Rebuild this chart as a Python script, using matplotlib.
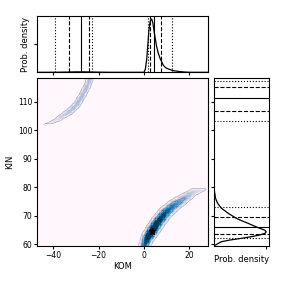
import numpy as np
import matplotlib
matplotlib.use("Agg")
import matplotlib.pyplot as plt

# ---- values ----
# ridge of the two posterior "bananas" (KOM, KIN), relative density along ridge
ridge_low_kom = [0.3, 1.5, 3.4, 6.0, 9.3, 13.0, 16.9, 21.8, 27.0]
ridge_low_kin = [59.5, 62.0, 64.3, 67.5, 70.8, 73.5, 75.5, 78.2, 79.3]
ridge_low_rho = [0.65, 0.95, 1.0, 0.9, 0.72, 0.56, 0.4, 0.22, 0.08]
ridge_low_wid = [2.8, 3.0, 3.2, 3.3, 3.3, 3.2, 3.0, 2.6, 1.8]

ridge_up_kom = [-44.0, -40.0, -37.0, -33.0, -29.6, -27.0, -25.0, -23.5]
ridge_up_kin = [102.0, 103.0, 104.4, 106.5, 109.0, 112.5, 115.5, 119.0]
ridge_up_rho = [0.07, 0.12, 0.2, 0.27, 0.3, 0.3, 0.29, 0.29]
ridge_up_wid = [1.2, 1.6, 1.9, 2.1, 2.1, 2.1, 2.1, 2.1]

best_kom, best_kin = 3.6, 64.6

# marginal of KOM
kom_x = [-47, -40, -34, -30, -26, -22, -15, 0.0, 0.6, 1.2, 1.7, 2.2, 2.8, 3.4, 3.9,
         4.4, 5.0, 5.6, 6.3, 7.1, 8.5, 9.5, 10.7, 12.9, 15.9, 18.0, 20.3, 28]
kom_p = [0, 0, 0.0008, 0.0015, 0.0015, 0.0008, 0, 0, 0.01, 0.044, 0.095, 0.151, 0.183,
         0.19, 0.178, 0.151, 0.12, 0.092, 0.069, 0.05, 0.026, 0.017, 0.012, 0.006,
         0.0024, 0.001, 0, 0]
# credible interval lines for KOM (2.5, 16, 50, 84, 97.5 %) for each mode
kom_lines_up = [-39.4, -33.1, -27.7, -24.4, -23.1]
kom_lines_low = [1.6, 2.7, 4.6, 7.6, 12.2]

# marginal of KIN
kin_y = [59.2, 59.6, 60.8, 61.4, 62.0, 62.6, 63.2, 63.8, 64.3, 64.9, 65.5, 66.4, 67.3,
         68.1, 69.0, 70.8, 72.6, 74.4, 76.1, 78.4, 80.0, 118.4]
kin_p = [0, 0.002, 0.0137, 0.03, 0.0525, 0.072, 0.088, 0.098, 0.1, 0.097, 0.088, 0.076,
         0.065, 0.054, 0.043, 0.027, 0.0137, 0.0063, 0.0026, 0.0006, 0, 0]
kin_lines_up = [117.5, 115.2, 111.4, 106.9, 103.4]
kin_lines_low = [73.1, 69.5, 65.9, 63.4, 62.0]

line_styles = [':', '--', '-', '--', ':']

xlim = (-47.1, 28.1)
ylim = (59.2, 118.4)

# ---- density field built from the ridges ----
# work in screen-like units so widths are isotropic
sx, sy = 2.265, 2.84
gx = np.linspace(xlim[0], xlim[1], 130)
gy = np.linspace(ylim[0], ylim[1], 130)
X, Y = np.meshgrid(gx, gy)


def band(kom, kin, rho, wid):
    px = np.array(kom) * sx
    py = np.array(kin) * sy
    out = np.zeros_like(X)
    for i in range(len(px) - 1):
        dx, dy = px[i + 1] - px[i], py[i + 1] - py[i]
        t = ((X * sx - px[i]) * dx + (Y * sy - py[i]) * dy) / (dx * dx + dy * dy)
        t = np.clip(t, 0, 1)
        d = np.hypot(X * sx - (px[i] + t * dx), Y * sy - (py[i] + t * dy))
        r = rho[i] + t * (rho[i + 1] - rho[i])
        w = wid[i] + t * (wid[i + 1] - wid[i])
        out = np.maximum(out, r * np.exp(-0.5 * (d / w) ** 2))
    return out


Z = np.maximum(band(ridge_low_kom, ridge_low_kin, ridge_low_rho, ridge_low_wid),
               band(ridge_up_kom, ridge_up_kin, ridge_up_rho, ridge_up_wid))
Z[Z < 0.06] = 0  # empty bins

plt.rcParams['font.family'] = ['DejaVu Sans']
plt.rcParams['font.size'] = 6

fig = plt.figure(figsize=(3.0, 2.81), dpi=100)
ax = fig.add_axes([0.124, 0.1235, 0.568, 0.599])
ax_top = fig.add_axes([0.124, 0.7427, 0.568, 0.1993], sharex=ax)
ax_right = fig.add_axes([0.714, 0.1235, 0.182, 0.599], sharey=ax)

# main panel
ax.pcolormesh(gx, gy, Z, cmap='PuBu', vmin=0, vmax=0.8, shading='auto')
ax.contour(gx, gy, Z, levels=[0.07, 0.35, 0.7], colors='k', linewidths=0.35, alpha=0.35)
ax.plot(best_kom, best_kin, marker='*', color='k', markersize=5)
ax.set_xlim(xlim)
ax.set_ylim(ylim)
ax.set_xticks([-40, -20, 0, 20])
ax.set_yticks([60, 70, 80, 90, 100, 110])
ax.set_xlabel('KOM', labelpad=1)
ax.set_ylabel('KIN', labelpad=3)
ax.tick_params(length=2, pad=1.5, labelsize=5.5)

# top marginal
ax_top.plot(kom_x, kom_p, color='k', lw=0.9)
for v, ls in zip(kom_lines_up + kom_lines_low, line_styles * 2):
    ax_top.axvline(v, color='k', ls=ls, lw=0.8)
ax_top.set_ylim(0, 0.1995)
ax_top.set_yticks([0.1])
ax_top.tick_params(labelbottom=False, labelleft=False, length=2)
ax_top.set_ylabel('Prob. density', labelpad=3)

# right marginal
ax_right.plot(kin_p, kin_y, color='k', lw=0.9)
for v, ls in zip(kin_lines_up + kin_lines_low, line_styles * 2):
    ax_right.axhline(v, color='k', ls=ls, lw=0.8)
ax_right.set_xlim(0, 0.105)
ax_right.set_xticks([0.1])
ax_right.tick_params(labelbottom=False, labelleft=False, length=2)
ax_right.set_xlabel('Prob. density', labelpad=4)

fig.savefig('out.png', dpi=100)
